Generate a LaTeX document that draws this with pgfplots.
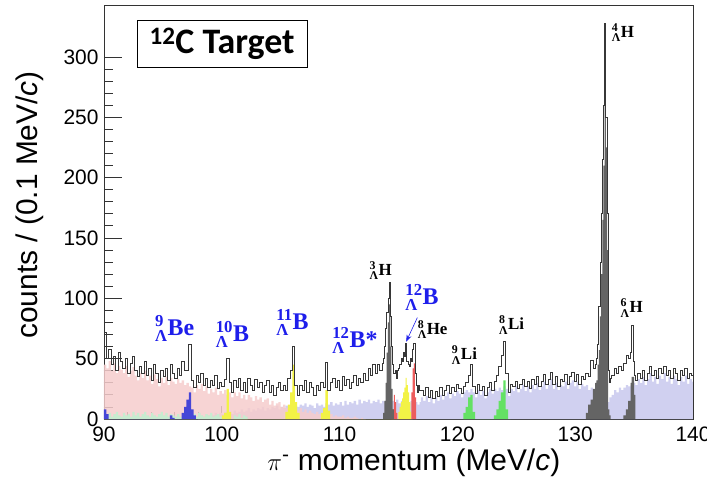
\documentclass[border=0pt]{standalone}
\usepackage{fontspec}
\usepackage{amsmath}
\usepackage{pgfplots}
\usepackage{pgfplotstable}
\pgfplotsset{compat=1.18}
\usetikzlibrary{arrows.meta}
\setmainfont{Liberation Sans}
\newfontfamily\nucfont{Liberation Serif}
\newfontfamily\titlefont{Carlito}

\definecolor{pinkfill}{RGB}{246,204,204}
\definecolor{lavfill}{RGB}{208,208,240}
\definecolor{mintfill}{RGB}{200,236,208}
\definecolor{bluefill}{RGB}{70,70,215}
\definecolor{yelfill}{RGB}{242,242,70}
\definecolor{redfill}{RGB}{236,92,92}
\definecolor{greyfill}{RGB}{100,100,100}
\definecolor{grnfill}{RGB}{100,225,100}
\definecolor{outl}{RGB}{55,55,55}
\definecolor{nucblue}{RGB}{30,30,235}

\newcommand{\nuc}[2]{{\nucfont\bfseries $^{\text{\nucfont\bfseries #1}}_{\text{\nucfont\bfseries Λ}}$#2}}

\pgfplotstableread{
x y
90.0 72
90.2 50
90.4 58
90.6 45
90.8 52
91.0 40
91.2 55
91.4 48
91.6 42
91.8 50
92.0 38
92.2 46
92.4 52
92.6 40
92.8 35
93.0 44
93.2 38
93.4 48
93.6 36
93.8 42
94.0 32
94.2 45
94.4 38
94.6 30
94.8 40
95.0 35
95.2 42
95.4 32
95.6 45
95.8 38
96.0 34
96.2 42
96.4 36
96.6 48
96.8 40
97.0 40
97.2 62
97.4 32
97.6 26
97.8 36
98.0 30
98.2 38
98.4 28
98.6 34
98.8 26
99.0 32
99.2 28
99.4 36
99.6 25
99.8 30
100.0 27
100.2 33
100.4 50
100.6 30
100.8 22
101.0 32
101.2 26
101.4 34
101.6 24
101.8 30
102.0 22
102.2 34
102.4 28
102.6 24
102.8 33
103.0 26
103.2 30
103.4 22
103.6 28
103.8 32
104.0 22
104.2 28
104.4 20
104.6 26
104.8 30
105.0 24
105.2 28
105.4 24
105.6 34
105.8 40
106.0 60
106.2 28
106.4 20
106.6 28
106.8 24
107.0 32
107.2 22
107.4 30
107.6 26
107.8 20
108.0 28
108.2 24
108.4 30
108.6 26
108.8 47
109.0 24
109.2 30
109.4 34
109.6 26
109.8 32
110.0 24
110.2 35
110.4 28
110.6 33
110.8 25
111.0 30
111.2 36
111.4 28
111.6 34
111.8 30
112.0 38
112.2 32
112.4 42
112.6 36
112.8 45
113.0 38
113.2 45
113.4 40
113.6 46
113.7 50
113.8 60
113.9 75
114.0 88
114.1 100
114.2 113
114.3 85
114.4 60
114.5 45
114.6 38
114.7 40
114.8 34
114.9 40
115.0 42
115.1 45
115.2 50
115.3 48
115.4 55
115.5 52
115.6 63
115.7 48
115.8 45
115.9 44
116.0 50
116.1 48
116.2 58
116.3 63
116.4 38
116.5 28
116.6 22
116.7 28
116.8 24
116.9 24
117.1 20
117.3 26
117.5 18
117.7 24
117.9 17
118.1 23
118.3 19
118.5 26
118.7 20
118.9 24
119.1 28
119.3 21
119.5 26
119.7 23
119.9 29
120.1 25
120.3 21
120.5 27
120.7 30
120.9 36
121.1 45
121.3 27
121.5 21
121.7 29
121.9 24
122.1 27
122.3 20
122.5 26
122.7 30
122.9 24
123.1 31
123.3 36
123.5 44
123.7 53
123.9 64
124.1 38
124.3 22
124.5 29
124.7 27
124.9 31
125.1 25
125.3 29
125.5 33
125.7 27
125.9 31
126.1 25
126.3 33
126.5 29
126.7 35
126.9 27
127.1 31
127.3 37
127.5 29
127.7 33
127.9 39
128.1 29
128.3 35
128.5 27
128.7 33
128.9 31
129.1 37
129.3 29
129.5 35
129.7 39
129.9 31
130.1 37
130.3 29
130.5 35
130.7 33
130.9 38
131.1 35
131.3 49
131.5 42
131.7 45
131.8 50
131.9 62
132.0 93
132.1 130
132.2 170
132.3 215
132.4 260
132.5 328
132.6 250
132.7 170
132.8 40
132.9 30
133.0 34
133.1 36
133.3 42
133.5 38
133.7 44
133.9 40
134.1 46
134.3 53
134.5 50
134.7 55
134.8 78
134.9 48
135.0 36
135.1 32
135.3 38
135.5 34
135.7 40
135.9 32
136.1 38
136.3 44
136.5 36
136.7 40
136.9 34
137.1 42
137.3 38
137.5 44
137.7 36
137.9 40
138.1 34
138.3 42
138.5 38
138.7 32
138.9 40
139.1 36
139.3 42
139.5 34
139.7 38
139.9 36
140.0 36
}\totaldata

\pgfplotstableread{
x y
90.0 45
90.2 42
90.4 48
90.6 40
90.8 46
91.0 38
91.2 44
91.4 41
91.6 38
91.8 44
92.0 35
92.2 40
92.4 43
92.6 36
92.8 32
93.0 38
93.2 34
93.4 40
93.6 32
93.8 36
94.0 29
94.2 37
94.4 33
94.6 27
94.8 34
95.0 30
95.2 35
95.4 28
95.6 34
95.8 31
96.0 29
96.2 33
96.4 30
96.6 32
96.8 28
97.0 30
97.2 27
97.4 26
97.6 22
97.8 28
98.0 25
98.2 29
98.4 23
98.6 27
98.8 21
99.0 25
99.2 22
99.4 26
99.6 20
99.8 23
100.0 21
100.2 24
100.4 20
100.6 22
100.8 18
101.0 22
101.2 19
101.4 22
101.6 17
101.8 20
102.0 16
102.2 20
102.4 18
102.6 15
102.8 19
103.0 16
103.2 18
103.4 14
103.6 16
103.8 17
104.0 12
104.2 15
104.4 11
104.6 13
104.8 14
105.0 10
105.2 12
105.4 9
105.6 11
105.8 10
106.0 8
106.2 9
106.4 7
106.6 9
106.8 6
107.0 8
107.2 5
107.4 7
107.6 5
107.8 4
108.0 6
108.2 4
108.4 5
108.6 3
108.8 4
109.0 3
109.2 4
109.4 2
109.6 3
109.8 2
110.0 2
110.2 3
110.4 1
110.6 2
110.8 1
111.0 1
111.2 2
111.4 1
111.6 0
111.8 1
112.0 0
112.2 0
}\pinkdata

\pgfplotstableread{
x y
98.0 2
98.2 3
98.4 2
98.6 4
98.8 3
99.0 4
99.2 3
99.4 5
99.6 4
99.8 5
100.0 4
100.2 6
100.4 5
100.6 6
100.8 4
101.0 7
101.2 5
101.4 6
101.6 8
101.8 6
102.0 7
102.2 9
102.4 6
102.6 8
102.8 7
103.0 9
103.2 8
103.4 10
103.6 7
103.8 9
104.0 8
104.2 10
104.4 9
104.6 11
104.8 8
105.0 10
105.2 9
105.4 11
105.6 10
105.8 12
106.0 9
106.2 11
106.4 10
106.6 12
106.8 11
107.0 13
107.2 10
107.4 12
107.6 11
107.8 9
108.0 13
108.2 11
108.4 12
108.6 10
108.8 13
109.0 12
109.2 14
109.4 11
109.6 13
109.8 12
110.0 14
110.2 11
110.4 15
110.6 12
110.8 14
111.0 13
111.2 15
111.4 12
111.6 16
111.8 13
112.0 15
112.2 14
112.4 16
112.6 13
112.8 15
113.0 14
113.2 16
113.4 13
113.6 15
113.8 14
114.0 16
114.2 13
114.4 15
114.6 14
114.8 16
115.0 13
115.2 15
115.4 12
115.6 14
115.8 13
116.0 15
116.2 12
116.4 14
116.6 12
116.8 14
116.9 18
117.1 15
117.3 19
117.5 14
117.7 18
117.9 13
118.1 18
118.3 15
118.5 20
118.7 16
118.9 19
119.1 22
119.3 17
119.5 21
119.7 19
119.9 23
120.1 21
120.3 18
120.5 22
120.7 24
120.9 22
121.1 25
121.3 22
121.5 18
121.7 24
121.9 20
122.1 23
122.3 17
122.5 22
122.7 25
122.9 21
123.1 25
123.3 23
123.5 26
123.7 24
123.9 27
124.1 25
124.3 19
124.5 25
124.7 23
124.9 27
125.1 22
125.3 25
125.5 28
125.7 23
125.9 27
126.1 22
126.3 28
126.5 25
126.7 30
126.9 24
127.1 27
127.3 31
127.5 25
127.7 28
127.9 33
128.1 25
128.3 30
128.5 24
128.7 28
128.9 27
129.1 31
129.3 25
129.5 30
129.7 32
129.9 27
130.1 31
130.3 25
130.5 29
130.7 27
130.9 28
131.1 24
131.3 26
131.5 22
131.7 20
131.9 18
132.1 16
132.3 14
132.5 12
132.7 14
132.9 18
133.1 20
133.3 24
133.5 22
133.7 26
133.9 24
134.1 26
134.3 28
134.5 27
134.7 28
134.9 30
135.1 28
135.3 33
135.5 30
135.7 35
135.9 28
136.1 33
136.3 38
136.5 31
136.7 35
136.9 29
137.1 36
137.3 33
137.5 38
137.7 31
137.9 35
138.1 29
138.3 36
138.5 33
138.7 28
138.9 35
139.1 31
139.3 36
139.5 29
139.7 33
139.9 31
140.0 31
}\lavdata

\pgfplotstableread{
x y
90.0 0
90.2 3
90.4 5
90.6 2
90.8 4
91.0 6
91.2 3
91.4 2
91.6 5
91.8 3
92.0 4
92.2 2
92.4 6
92.6 3
92.8 5
93.0 2
93.2 4
93.4 6
93.6 3
93.8 2
94.0 5
94.2 3
94.4 2
94.6 4
94.8 6
95.0 3
95.2 5
95.4 2
95.6 4
95.8 3
96.0 2
96.2 4
96.4 2
96.6 1
96.8 0
97.4 0
97.6 4
97.8 2
98.0 5
98.2 3
98.4 2
98.6 4
98.8 3
99.0 5
99.2 2
99.4 3
99.6 4
99.8 2
100.0 1
100.2 0
100.8 0
101.0 3
101.2 2
101.4 4
101.6 1
101.8 3
102.0 2
102.2 0
}\mintdata

\pgfplotstableread{
x y
90.0 8
90.2 4
90.4 0
95.4 0
95.6 3
95.8 1
96.0 0
96.4 0
96.6 5
96.8 10
97.0 16
97.2 22
97.4 8
97.6 3
97.8 0
98.0 0
}\bluedata

\pgfplotstableread{
x y
100.0 3
100.2 5
100.4 25
100.6 6
100.8 0
105.2 0
105.4 6
105.6 12
105.8 22
106.0 45
106.2 14
106.4 5
106.6 0
108.2 0
108.4 5
108.6 9
108.8 24
109.0 7
109.2 0
114.9 0
115.0 6
115.1 10
115.2 14
115.3 17
115.4 22
115.5 26
115.6 34
115.7 28
115.8 22
115.9 14
116.0 6
116.1 0
116.2 0
}\yeldata

\pgfplotstableread{
x y
114.4 0
114.5 8
114.6 20
114.7 14
114.8 5
114.9 0
116.0 0
116.1 22
116.2 42
116.3 46
116.4 18
116.5 0
116.6 0
}\reddata

\pgfplotstableread{
x y
113.6 0
113.7 5
113.8 15
113.9 30
114.0 55
114.1 80
114.2 95
114.3 60
114.4 25
114.5 8
114.6 0
130.9 5
131.1 12
131.3 16
131.5 25
131.7 30
131.8 32
131.9 45
132.0 57
132.1 85
132.2 120
132.3 165
132.4 210
132.5 300
132.6 225
132.7 140
132.8 8
132.9 3
133.0 0
134.1 3
134.3 8
134.5 15
134.7 30
134.8 35
134.9 35
135.0 20
135.1 0
135.3 0
}\greydata

\pgfplotstableread{
x y
120.5 5
120.7 10
120.9 18
121.1 20
121.3 6
121.5 0
123.1 3
123.3 8
123.5 15
123.7 22
123.9 32
124.1 8
124.3 0
124.5 0
}\grndata

\begin{document}
\begin{tikzpicture}
\begin{axis}[
  at={(0,0)}, anchor=south west,
  width=589bp, height=414bp, scale only axis,
  xmin=90, xmax=140, ymin=0, ymax=343,
  xtick={90,100,110,120,130,140},
  ytick={0,50,100,150,200,250,300},
  minor x tick num=4, minor y tick num=4,
  tick align=inside,
  xtick pos=left, ytick pos=left,
  major x tick style={/pgfplots/major tick length=13bp},
  minor x tick style={/pgfplots/minor tick length=7bp},
  major y tick style={/pgfplots/major tick length=18bp},
  minor y tick style={/pgfplots/minor tick length=9bp},
  axis line style={line width=0.8pt, black!80},
  tick style={line width=0.8pt, black!80},
  ticklabel style={font=\fontsize{21}{24}\selectfont},
  /pgf/number format/assume math mode=true,
  xticklabel style={yshift=-4bp},
  yticklabel style={xshift=-2bp},
  xlabel={$\pi^{\text{-}}$ momentum (MeV/\textit{c})},
  ylabel={counts / (0.1 MeV/\textit{c})},
  label style={font=\fontsize{30}{34}\selectfont},
  xlabel style={at={(axis description cs:0.526,-0.106)}, anchor=center},
  ylabel style={at={(axis description cs:-0.126,0.517)}, anchor=center},
  clip mode=individual,
]
\addplot[const plot mark left, draw=none, fill=lavfill] table {\lavdata} \closedcycle;
\addplot[const plot mark left, draw=none, fill=pinkfill, fill opacity=0.85] table {\pinkdata} \closedcycle;
\addplot[const plot mark left, draw=none, fill=mintfill] table {\mintdata} \closedcycle;
\addplot[const plot mark left, draw=none, fill=bluefill] table {\bluedata} \closedcycle;
\addplot[const plot mark left, draw=none, fill=yelfill] table {\yeldata} \closedcycle;
\addplot[const plot mark left, draw=none, fill=redfill] table {\reddata} \closedcycle;
\addplot[const plot mark left, draw=none, fill=grnfill] table {\grndata} \closedcycle;
\addplot[const plot mark left, draw=none, fill=greyfill] table {\greydata} \closedcycle;
\addplot[const plot mark left, draw=outl, line width=0.7pt] table {\totaldata};

\node[draw=black, line width=0.8pt, fill=white, minimum width=170bp, minimum height=47bp, inner sep=0pt]
  at (axis cs:100.02,311) {\titlefont\bfseries\fontsize{36}{40}\selectfont\textsuperscript{12}C Target};

\begin{scope}[font=\fontsize{24}{27}\selectfont, text=nucblue]
\node at (axis cs:96.0,75) {\nuc{9}{Be}};
\node at (axis cs:100.9,70) {\nuc{10}{B}};
\node at (axis cs:106.0,80) {\nuc{11}{B}};
\node at (axis cs:111.3,65) {\nuc{12}{B*}};
\node at (axis cs:117.0,101) {\nuc{12}{B}};
\end{scope}
\draw[nucblue, line width=0.6pt, -{Stealth[length=7bp,width=5bp]}] (axis cs:116.6,84) -- (axis cs:115.65,64);

\begin{scope}[font=\fontsize{17}{19}\selectfont]
\node at (axis cs:113.5,123) {\nuc{3}{H}};
\node at (axis cs:117.9,74) {\nuc{8}{He}};
\node at (axis cs:120.6,53) {\nuc{9}{Li}};
\node at (axis cs:124.6,78) {\nuc{8}{Li}};
\node at (axis cs:134.05,320) {\nuc{4}{H}};
\node at (axis cs:134.8,92) {\nuc{6}{H}};
\end{scope}
\end{axis}
\pgfresetboundingbox
\path[use as bounding box] (-104bp,-66bp) rectangle (603bp,419bp);
\end{tikzpicture}
\end{document}
